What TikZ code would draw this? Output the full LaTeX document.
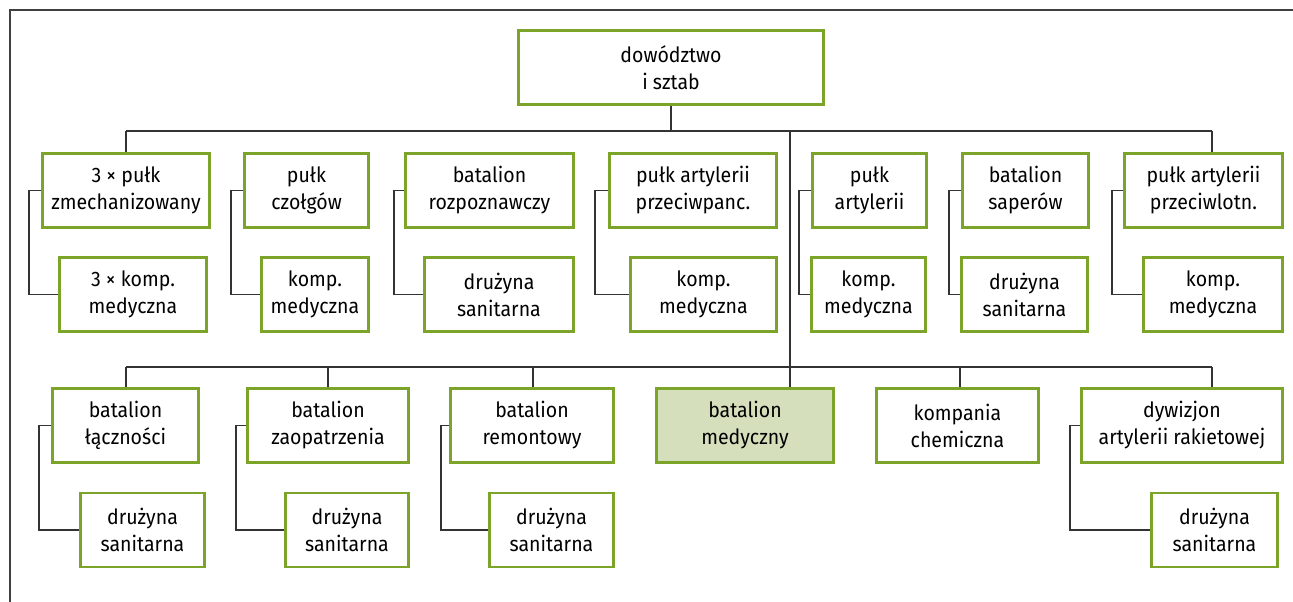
\documentclass[tikz,border=0pt]{standalone}
\usepackage{fontspec}
\setmainfont{Fira Sans}[FakeStretch=0.93]
\definecolor{boxgreen}{HTML}{7BA428}
\definecolor{boxfill}{HTML}{D6DFBB}
\definecolor{linegray}{HTML}{333333}
\tikzset{
  orgbox/.style={draw=boxgreen, line width=2.6pt, fill=white, minimum height=74pt,
    inner sep=0pt, align=center, font=\fontsize{21}{27}\selectfont, text=black},
  hibox/.style={orgbox, fill=boxfill},
  conn/.style={draw=linegray, line width=1.3pt},
  framel/.style={draw=black!75, line width=1.1pt}
}
\begin{document}
\begin{tikzpicture}[x=1pt,y=-1pt]
\useasboundingbox (0,0) rectangle (1293,602);
\coordinate (fTL) at (10,10);
\coordinate (fTR) at (1293,10);
\coordinate (fBL) at (10,602);
\draw[framel] (fTR) -- (fTL) -- (fBL);

% top
\node[orgbox, minimum width=305pt] (top) at (671,67.5) {dowództwo\\i sztab};

% row 1
\node[orgbox, minimum width=167pt] (b1) at (126,190.5) {3 × pułk\\zmechanizowany};
\node[orgbox, minimum width=147pt] (s1) at (133,294.5) {3 × komp.\\medyczna};
\node[orgbox, minimum width=124pt] (b2) at (306.5,190.5) {pułk\\czołgów};
\node[orgbox, minimum width=107pt] (s2) at (315,294.5) {komp.\\medyczna};
\node[orgbox, minimum width=168pt] (b3) at (489.5,190.5) {batalion\\rozpoznawczy};
\node[orgbox, minimum width=149pt] (s3) at (499,294.5) {drużyna\\sanitarna};
\node[orgbox, minimum width=167pt] (b4) at (693,190.5) {pułk artylerii\\przeciwpanc.};
\node[orgbox, minimum width=146pt] (s4) at (703.5,294.5) {komp.\\medyczna};
\node[orgbox, minimum width=114pt] (b5) at (869.5,190.5) {pułk\\artylerii};
\node[orgbox, minimum width=114pt] (s5) at (868.5,294.5) {komp.\\medyczna};
\node[orgbox, minimum width=126pt] (b6) at (1025.5,190.5) {batalion\\saperów};
\node[orgbox, minimum width=126pt] (s6) at (1024.5,294.5) {drużyna\\sanitarna};
\node[orgbox, minimum width=158pt] (b7) at (1203.5,190.5) {pułk artylerii\\przeciwlotn.};
\node[orgbox, minimum width=139pt] (s7) at (1213,294.5) {komp.\\medyczna};

% row 2
\node[orgbox, minimum width=146pt] (c1) at (125.5,425.5) {batalion\\łączności};
\node[orgbox, minimum width=124pt] (d1) at (142.5,530) {drużyna\\sanitarna};
\node[orgbox, minimum width=161pt] (c2) at (328,425.5) {batalion\\zaopatrzenia};
\node[orgbox, minimum width=123pt] (d2) at (347,530) {drużyna\\sanitarna};
\node[orgbox, minimum width=163pt] (c3) at (532,425.5) {batalion\\remontowy};
\node[orgbox, minimum width=124pt] (d3) at (551.5,530) {drużyna\\sanitarna};
\node[hibox, minimum width=177pt] (c4) at (745,425.5) {batalion\\medyczny};
\node[orgbox, minimum width=162pt] (c5) at (957.5,425.5) {kompania\\chemiczna};
\node[orgbox, minimum width=201pt] (c6) at (1182,425.5) {dywizjon\\artylerii rakietowej};
\node[orgbox, minimum width=126pt] (d6) at (1214.5,530) {drużyna\\sanitarna};

% upper bus
\coordinate (hL) at (126,131);
\coordinate (hR) at (1212,131);
\coordinate (hT) at (790,131);
\draw[conn] (hL) -- (hR);
\draw[conn] (top.south) -- (top.south |- hL);
\draw[conn] (hL) -- (hL |- b1.north);
\draw[conn] (hR) -- (hR |- b7.north);

% lower bus
\coordinate (lL) at (126,367);
\coordinate (lR) at (1212,367);
\draw[conn] (lL) -- (lR);
\draw[conn] (hT) -- (hT |- c4.north);
\draw[conn] (lL) -- (lL |- c1.north);
\draw[conn] (328,367) -- (c2.north);
\draw[conn] (533,367) -- (533,0 |- c3.north);
\draw[conn] (960,367) -- (960,0 |- c5.north);
\draw[conn] (lR) -- (lR |- c6.north);

% brackets row 1
\draw[conn] (b1.west) -| (29,240) |- (s1.west);
\draw[conn] (b2.west) -| (231,240) |- (s2.west);
\draw[conn] (b3.west) -| (394,240) |- (s3.west);
\draw[conn] (b4.west) -| (595,240) |- (s4.west);
\draw[conn] (b5.west) -| (799,240) |- (s5.west);
\draw[conn] (b6.west) -| (949,240) |- (s6.west);
\draw[conn] (b7.west) -| (1112,240) |- (s7.west);

% brackets row 2
\draw[conn] (c1.west) -| (39,480) |- (d1.west);
\draw[conn] (c2.west) -| (236,480) |- (d2.west);
\draw[conn] (c3.west) -| (441,480) |- (d3.west);
\draw[conn] (c6.west) -| (1070,480) |- (d6.west);
\end{tikzpicture}
\end{document}
